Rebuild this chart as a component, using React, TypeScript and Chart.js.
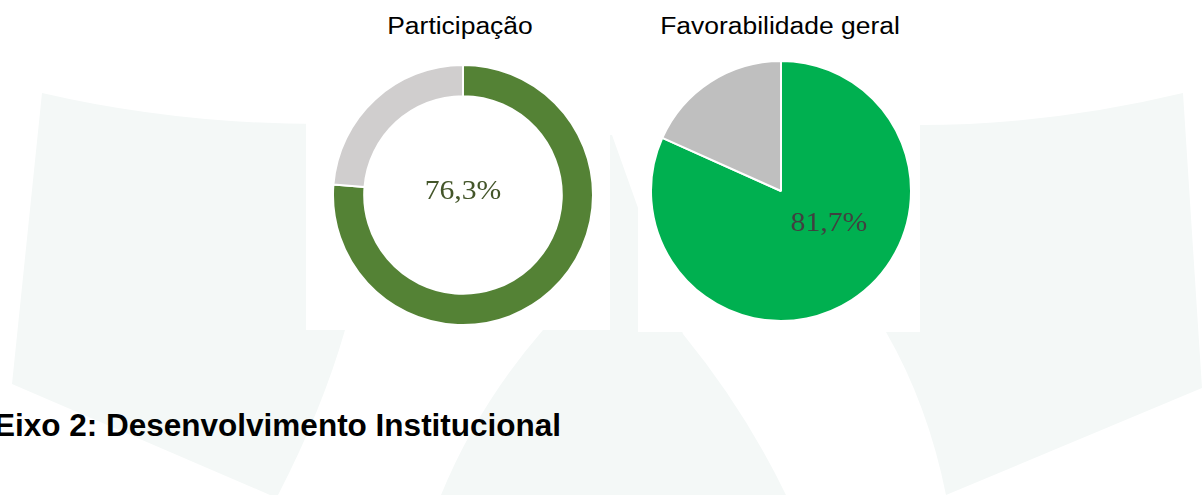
import React, { useEffect, useRef } from 'react';
import { Chart, registerables } from 'chart.js';

Chart.register(...registerables);

// ---- Data ----
const participacaoLabels = ['Participantes', 'Não participantes'];
const participacaoValues = [76.3, 23.7];
const participacaoColors = ['#548235', '#d0cece'];

const favorabilidadeLabels = ['Favorável', 'Não favorável'];
const favorabilidadeValues = [81.7, 18.3];
const favorabilidadeColors = ['#00b050', '#bfbfbf'];

const chartTitles = ['Participação', 'Favorabilidade geral'];
const headingText = 'Eixo 2: Desenvolvimento Institucional';

function fmt(v: number): string {
  return v.toFixed(1).replace('.', ',') + '%';
}

// Draws the first value of the dataset as a label, placed relative to the arc geometry
const valueLabelPlugin = {
  id: 'valueLabel',
  afterDatasetsDraw(chart: any, _args: any, opts: any) {
    const meta = chart.getDatasetMeta(0);
    const arc = meta.data[0];
    if (!arc) return;
    const { x, y, outerRadius } = arc.getProps(['x', 'y', 'outerRadius'], true);
    const ctx = chart.ctx;
    const px = x + Math.cos(opts.angle) * outerRadius * opts.dist;
    const py = y + Math.sin(opts.angle) * outerRadius * opts.dist;
    ctx.save();
    ctx.translate(px, py);
    ctx.scale(opts.scaleX, 1);
    ctx.font = opts.font;
    ctx.fillStyle = opts.color;
    ctx.textAlign = 'center';
    ctx.textBaseline = 'middle';
    ctx.fillText(fmt(chart.data.datasets[0].data[0]), 0, 0);
    ctx.restore();
  },
};

type PieProps = {
  type: 'doughnut' | 'pie';
  labels: string[];
  values: number[];
  colors: string[];
  cutout: string | number;
  labelOpts: any;
  style: React.CSSProperties;
};

function PieChart({ type, labels, values, colors, cutout, labelOpts, style }: PieProps) {
  const ref = useRef<HTMLCanvasElement | null>(null);
  useEffect(() => {
    if (!ref.current) return;
    const chart = new Chart(ref.current, {
      type,
      data: {
        labels,
        datasets: [
          {
            data: values,
            backgroundColor: colors,
            borderColor: '#ffffff',
            borderWidth: 2,
          },
        ],
      },
      options: {
        responsive: false,
        animation: false,
        devicePixelRatio: 1,
        cutout,
        rotation: 0,
        layout: { padding: 0 },
        plugins: {
          legend: { display: false },
          tooltip: { enabled: false },
          title: { display: false },
          valueLabel: labelOpts,
        } as any,
      },
      plugins: [valueLabelPlugin],
    } as any);
    return () => chart.destroy();
  }, []);
  return <canvas ref={ref} width={262} height={262} style={{ position: 'absolute', ...style }} />;
}

const titleStyle: React.CSSProperties = {
  position: 'absolute',
  top: 15,
  fontFamily: '"Liberation Sans", Arial, sans-serif',
  fontSize: 23,
  lineHeight: '23px',
  color: '#000',
  whiteSpace: 'nowrap',
  transform: 'translateX(-50%) scaleX(1.15)',
};

export default function App() {
  const wm = '#f4f8f7';
  return (
    <div
      style={{
        position: 'fixed',
        left: 0,
        top: 0,
        width: 1202,
        height: 495,
        overflow: 'hidden',
        background: '#ffffff',
      }}
    >
      <svg width={1202} height={495} style={{ position: 'absolute', left: 0, top: 0 }}>
        <path d="M42,93 Q180,125 330,124 L345,330 Q322,410 278,495 L270,495 L12,384 Z" fill={wm} />
        <path d="M560,135 L612,135 L683,334 Q745,410 786,495 L441,495 Q478,405 543,330 Z" fill={wm} />
        <path d="M900,125 L920,125 Q1050,125 1183,93 L1202,388 L946,495 Q928,405 886,332 Z" fill={wm} />
        <rect x={306} y={0} width={304} height={330} fill="#ffffff" />
        <rect x={638} y={0} width={282} height={332} fill="#ffffff" />
      </svg>

      <div style={{ ...titleStyle, left: 460 }}>{chartTitles[0]}</div>
      <div style={{ ...titleStyle, left: 780 }}>{chartTitles[1]}</div>

      <PieChart
        type="doughnut"
        labels={participacaoLabels}
        values={participacaoValues}
        colors={participacaoColors}
        cutout="76%"
        labelOpts={{
          angle: -Math.PI / 2,
          dist: 0.023,
          font: '26.5px "Liberation Serif", serif',
          color: '#44562a',
          scaleX: 1.12,
        }}
        style={{ left: 332, top: 64 }}
      />
      <PieChart
        type="pie"
        labels={favorabilidadeLabels}
        values={favorabilidadeValues}
        colors={favorabilidadeColors}
        cutout={0}
        labelOpts={{
          angle: 0.609,
          dist: 0.449,
          font: '26.5px "Liberation Serif", serif',
          color: '#404040',
          scaleX: 1.12,
        }}
        style={{ left: 650, top: 60 }}
      />

      <div
        style={{
          position: 'absolute',
          left: -6,
          top: 410,
          fontFamily: '"Liberation Sans", Arial, sans-serif',
          fontWeight: 'bold',
          fontSize: 31.5,
          lineHeight: '31.5px',
          color: '#000',
          whiteSpace: 'nowrap',
        }}
      >
        {headingText}
      </div>
    </div>
  );
}
